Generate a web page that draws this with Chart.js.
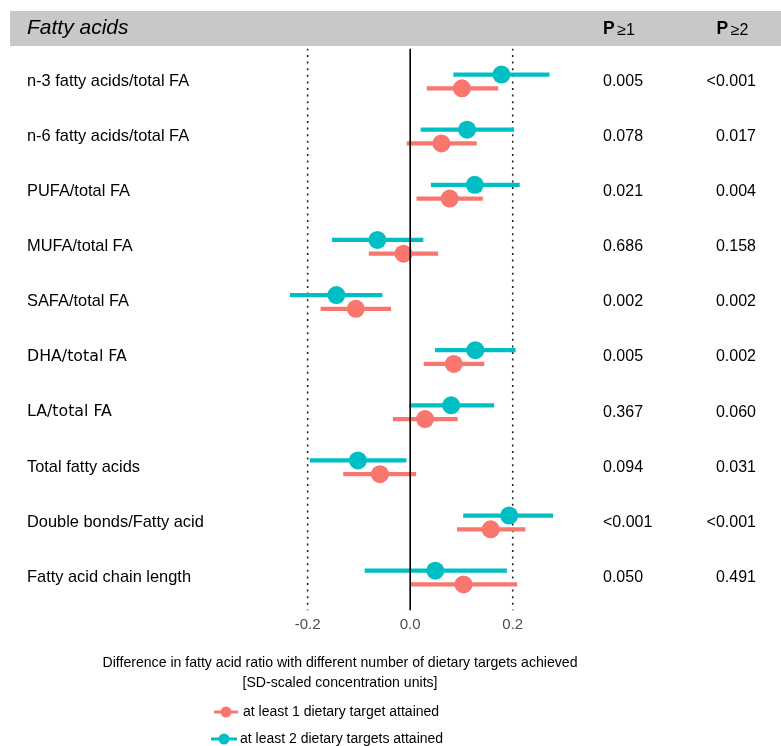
<!DOCTYPE html>
<html>
<head>
<meta charset="utf-8">
<script src="https://cdn.jsdelivr.net/npm/chart.js@4.4.1/dist/chart.umd.min.js"></script>
<style>
  html, body { margin: 0; padding: 0; background: #ffffff; }
  canvas { display: block; }
</style>
</head>
<body>
<canvas id="c" width="781" height="746"></canvas>
<script>
// ---------- data ----------
const categories = [
  "n-3 fatty acids/total FA",
  "n-6 fatty acids/total FA",
  "PUFA/total FA",
  "MUFA/total FA",
  "SAFA/total FA",
  "DHA/total FA",
  "LA/total FA",
  "Total fatty acids",
  "Double bonds/Fatty acid",
  "Fatty acid chain length"
];
// at least 1 dietary target attained
const est1 = [0.101, 0.061, 0.077, -0.013, -0.106, 0.085, 0.029, -0.059, 0.157, 0.104];
const lo1  = [0.033, -0.006, 0.013, -0.080, -0.174, 0.027, -0.033, -0.130, 0.092, 0.002];
const hi1  = [0.171, 0.129, 0.141, 0.054, -0.038, 0.144, 0.092, 0.011, 0.224, 0.208];
// at least 2 dietary targets attained
const est2 = [0.178, 0.111, 0.126, -0.064, -0.144, 0.127, 0.080, -0.102, 0.193, 0.049];
const lo2  = [0.085, 0.021, 0.041, -0.152, -0.234, 0.049, -0.001, -0.195, 0.104, -0.088];
const hi2  = [0.271, 0.202, 0.213, 0.025, -0.055, 0.205, 0.163, -0.008, 0.278, 0.188];
// p-values
const pGe1 = ["0.005", "0.078", "0.021", "0.686", "0.002", "0.005", "0.367", "0.094", "<0.001", "0.050"];
const pGe2 = ["<0.001", "0.017", "0.004", "0.158", "0.002", "0.002", "0.060", "0.031", "<0.001", "0.491"];
// axis
const xTickValues = [-0.2, 0.0, 0.2];
const xTickLabels = ["-0.2", "0.0", "0.2"];
const dottedRefs = [-0.2, 0.2];
const zeroRef = 0;
const seriesNames = ["at least 1 dietary target attained", "at least 2 dietary targets attained"];
const panelTitle = "Fatty acids";
const colHeads = [["P", "\u22651"], ["P", "\u22652"]];
const axisTitle = ["Difference in fatty acid ratio with different number of dietary targets achieved",
                   "[SD-scaled concentration units]"];

// ---------- styles ----------
const RED = "#F8766D", TEAL = "#00BFC4";
const ARIAL = '"Liberation Sans", Arial, Helvetica, sans-serif';
const DEJAVU = '"DejaVu Sans", Verdana, sans-serif';
const DODGE = 0.125;
const Y_MIN = -0.6, Y_MAX = categories.length - 1 + 0.6;
const labelFont = (lab) => /^(DHA|LA)\//.test(lab) ? ('15.8px ' + DEJAVU) : ('16.4px ' + ARIAL);

Chart.defaults.font.family = ARIAL;

const refLine = (v, dashed, order) => ({
  type: 'line',
  data: [{x: v, y: Y_MIN}, {x: v, y: Y_MAX}],
  borderColor: dashed ? '#222222' : '#000000',
  borderWidth: 1.6,
  borderDash: dashed ? [2, 4.6] : [],
  borderCapStyle: 'butt',
  pointRadius: 0,
  showLine: true,
  order: order
});

const bars = (lo, hi, off, color, order) => ({
  type: 'bar',
  indexAxis: 'y',
  data: categories.map((c, i) => ({x: [lo[i], hi[i]], y: i + off})),
  backgroundColor: color,
  borderWidth: 0,
  barThickness: 3.6,
  grouped: false,
  order: order
});

const points = (est, off, color, order) => ({
  type: 'scatter',
  data: categories.map((c, i) => ({x: est[i], y: i + off})),
  backgroundColor: color,
  borderWidth: 0,
  pointRadius: 9,
  pointHoverRadius: 9,
  order: order
});

const datasets = [
  ...dottedRefs.map(v => refLine(v, true, 10)),
  bars(lo2, hi2, -DODGE, TEAL, 9),
  bars(lo1, hi1, DODGE, RED, 8),
  points(est2, -DODGE, TEAL, 7),
  points(est1, DODGE, RED, 6),
  refLine(zeroRef, false, 0)
];

const decor = {
  id: 'decor',
  beforeDraw(chart) {
    const ctx = chart.ctx;
    ctx.save();
    ctx.fillStyle = '#ffffff';
    ctx.fillRect(0, 0, chart.width, chart.height);
    ctx.fillStyle = '#c8c8c8';
    ctx.fillRect(10, 11, chart.width - 10, 35);
    ctx.restore();
  },
  afterDraw(chart) {
    const ctx = chart.ctx;
    const ys = chart.scales.y;
    ctx.save();
    ctx.fillStyle = '#000000';
    ctx.textBaseline = 'middle';
    // header
    ctx.font = 'italic 21px ' + ARIAL;
    ctx.textAlign = 'left';
    ctx.fillText(panelTitle, 27, 28.5);
    const headX = [603, 716.5];
    colHeads.forEach((h, k) => {
      ctx.font = 'bold 17.5px ' + ARIAL;
      ctx.fillText(h[0], headX[k], 29);
      const w = ctx.measureText(h[0]).width;
      ctx.font = '16px ' + ARIAL;
      ctx.fillText(h[1], headX[k] + w + 2.5, 30.5);
    });
    // row labels and p-values
    categories.forEach((lab, i) => {
      const y = ys.getPixelForValue(i);
      ctx.font = labelFont(lab);
      ctx.textAlign = 'left';
      ctx.fillText(lab, 27, y);
      ctx.font = '16px ' + ARIAL;
      ctx.textAlign = 'left';
      ctx.fillText(pGe1[i], 603, y);
      ctx.textAlign = 'right';
      ctx.fillText(pGe2[i], 756, y);
    });
    // axis title
    ctx.font = '14.1px ' + ARIAL;
    ctx.textAlign = 'center';
    ctx.fillText(axisTitle[0], 340, 663);
    ctx.fillText(axisTitle[1], 340, 683.5);
    // legend
    const legend = [
      {color: RED, x0: 214, x1: 238, y: 712, tx: 243},
      {color: TEAL, x0: 211, x1: 237, y: 739, tx: 240}
    ];
    legend.forEach((l, k) => {
      ctx.strokeStyle = l.color;
      ctx.lineWidth = 3;
      ctx.beginPath();
      ctx.moveTo(l.x0, l.y);
      ctx.lineTo(l.x1, l.y);
      ctx.stroke();
      ctx.fillStyle = l.color;
      ctx.beginPath();
      ctx.arc((l.x0 + l.x1) / 2, l.y, 5.5, 0, Math.PI * 2);
      ctx.fill();
      ctx.fillStyle = '#000000';
      ctx.font = '14px ' + ARIAL;
      ctx.textAlign = 'left';
      ctx.fillText(seriesNames[k], l.tx, l.y);
    });
    ctx.restore();
  }
};

new Chart(document.getElementById('c'), {
  type: 'scatter',
  data: { datasets },
  options: {
    responsive: false,
    animation: false,
    events: [],
    devicePixelRatio: 1,
    layout: { padding: { left: 282, right: 217, top: 48.4, bottom: 105.4 } },
    plugins: { legend: { display: false }, tooltip: { enabled: false } },
    scales: {
      x: {
        type: 'linear',
        min: -0.25,
        max: 0.3,
        offset: false,
        grid: { display: false, drawTicks: false, offset: false },
        border: { display: false },
        afterBuildTicks: (s) => { s.ticks = xTickValues.map(v => ({ value: v })); },
        afterFit: (s) => { s.height = 30; },
        ticks: {
          padding: 5,
          color: '#4d4d4d',
          font: { size: 15, family: ARIAL },
          callback: (v) => xTickLabels[xTickValues.indexOf(v)] ?? ''
        }
      },
      y: {
        type: 'linear',
        min: Y_MIN,
        max: Y_MAX,
        reverse: true,
        offset: false,
        grid: { offset: false },
        display: false
      }
    }
  },
  plugins: [decor]
});
</script>
</body>
</html>
